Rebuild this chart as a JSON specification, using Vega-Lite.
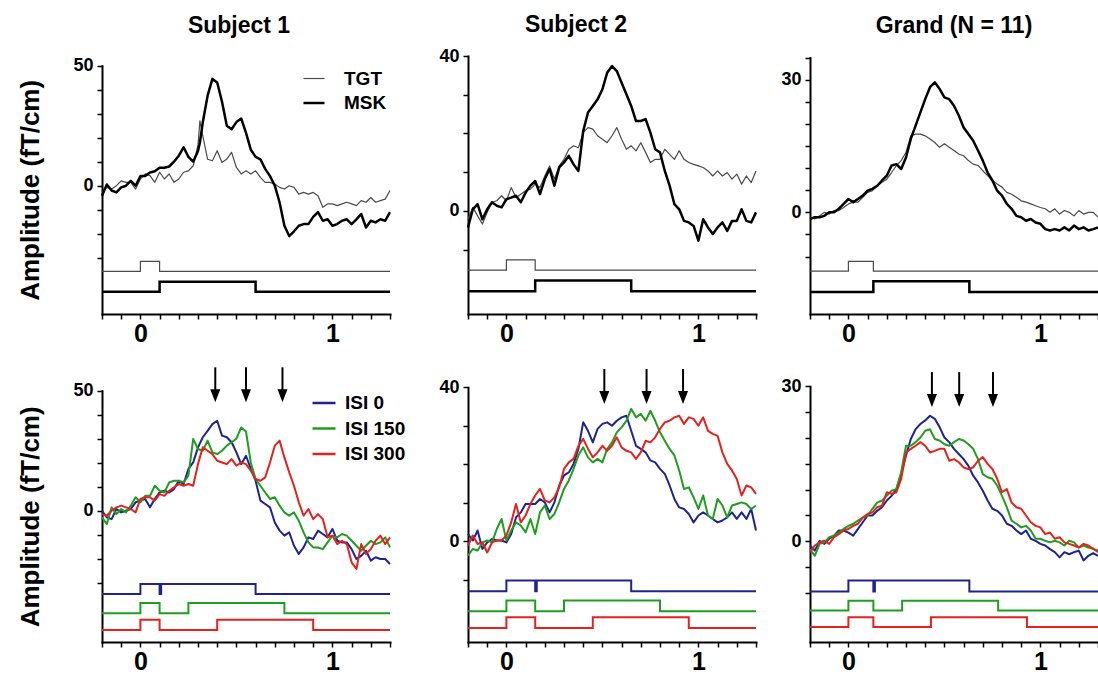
{
"$schema": "https://vega.github.io/schema/vega-lite/v6.json",
"autosize": {"type": "pad"},
"padding": {"left": 17, "top": 14, "right": 0, "bottom": 0},
"background": "white",
"columns": 3,
"spacing": {"row": 72, "column": 54},
"bounds": "flush",
"resolve": {"scale": {"color": "independent", "strokeWidth": "independent"}},
"datasets": {
"p1t": [
{"t":-0.2,"TGT":-2.8,"MSK":-4.2},{"t":-0.175,"TGT":-0.7,"MSK":0.5},{"t":-0.15,"TGT":-1.4,"MSK":-2},{"t":-0.125,"TGT":0,"MSK":-2.8},
{"t":-0.1,"TGT":2,"MSK":-0.7},{"t":-0.075,"TGT":1.4,"MSK":0},{"t":-0.05,"TGT":1.4,"MSK":2},{"t":-0.025,"TGT":-1.4,"MSK":0},
{"t":0,"TGT":2.8,"MSK":4},{"t":0.025,"TGT":4.9,"MSK":4},{"t":0.05,"TGT":4.2,"MSK":5.5},{"t":0.075,"TGT":1.4,"MSK":6},
{"t":0.1,"TGT":5.6,"MSK":7.5},{"t":0.125,"TGT":2.8,"MSK":7.5},{"t":0.15,"TGT":4.9,"MSK":8},{"t":0.175,"TGT":1.4,"MSK":10},
{"t":0.2,"TGT":2.8,"MSK":12.5},{"t":0.225,"TGT":5.6,"MSK":16},{"t":0.25,"TGT":6.2,"MSK":12},{"t":0.275,"TGT":8.3,"MSK":10},
{"t":0.3,"TGT":17,"MSK":14.5},{"t":0.31,"TGT":27,"MSK":18},{"t":0.325,"TGT":20.8,"MSK":26.4},{"t":0.35,"TGT":11,"MSK":37.5},{"t":0.375,"TGT":10.4,"MSK":44.5},
{"t":0.4,"TGT":14.6,"MSK":43},{"t":0.425,"TGT":9.7,"MSK":35},{"t":0.45,"TGT":11.1,"MSK":25},{"t":0.475,"TGT":13.9,"MSK":23.5},
{"t":0.5,"TGT":7.6,"MSK":26.5},{"t":0.525,"TGT":4.9,"MSK":28},{"t":0.55,"TGT":6.2,"MSK":22},{"t":0.575,"TGT":4.9,"MSK":15},
{"t":0.6,"TGT":6.2,"MSK":12},{"t":0.625,"TGT":3.5,"MSK":11},{"t":0.65,"TGT":1.4,"MSK":7},{"t":0.675,"TGT":1.4,"MSK":4},
{"t":0.7,"TGT":0.7,"MSK":0},{"t":0.725,"TGT":-0.7,"MSK":-7},{"t":0.75,"TGT":-1.4,"MSK":-16.7},{"t":0.775,"TGT":0,"MSK":-21},
{"t":0.8,"TGT":-0.7,"MSK":-19},{"t":0.825,"TGT":-3.5,"MSK":-16.7},{"t":0.85,"TGT":-2.8,"MSK":-16},{"t":0.875,"TGT":-3.5,"MSK":-16},
{"t":0.9,"TGT":-2.8,"MSK":-13},{"t":0.925,"TGT":-4.2,"MSK":-11},{"t":0.95,"TGT":-9,"MSK":-14.6},{"t":0.975,"TGT":-7.6,"MSK":-14},
{"t":1,"TGT":-7.6,"MSK":-16.7},{"t":1.025,"TGT":-8.3,"MSK":-16},{"t":1.05,"TGT":-7.6,"MSK":-14.6},{"t":1.075,"TGT":-6.9,"MSK":-14},
{"t":1.1,"TGT":-7.6,"MSK":-16},{"t":1.125,"TGT":-8.3,"MSK":-14},{"t":1.15,"TGT":-6.2,"MSK":-11.8},{"t":1.175,"TGT":-6.9,"MSK":-17.4},
{"t":1.2,"TGT":-4.9,"MSK":-14.6},{"t":1.225,"TGT":-6.9,"MSK":-15.3},{"t":1.25,"TGT":-6.2,"MSK":-14},{"t":1.275,"TGT":-5.6,"MSK":-14.6},
{"t":1.3,"TGT":-2,"MSK":-11}
],
"p2t": [
{"t":-0.2,"TGT":-2.2,"MSK":-4.3},{"t":-0.175,"TGT":0.9,"MSK":0.4},{"t":-0.15,"TGT":-1.3,"MSK":1.7},{"t":-0.125,"TGT":-3.4,"MSK":-2.2},
{"t":-0.1,"TGT":-0.4,"MSK":0.4},{"t":-0.075,"TGT":2.2,"MSK":2.2},{"t":-0.05,"TGT":2.6,"MSK":1.3},{"t":-0.025,"TGT":3.9,"MSK":0.9},
{"t":0,"TGT":2.6,"MSK":3},{"t":0.025,"TGT":6,"MSK":3.4},{"t":0.05,"TGT":3.4,"MSK":3.9},{"t":0.075,"TGT":4.3,"MSK":2.2},
{"t":0.1,"TGT":5.2,"MSK":4.7},{"t":0.125,"TGT":5.6,"MSK":6.5},{"t":0.15,"TGT":6.9,"MSK":7.7},{"t":0.175,"TGT":6,"MSK":4.3},
{"t":0.2,"TGT":9,"MSK":8.2},{"t":0.225,"TGT":11.6,"MSK":10.8},{"t":0.25,"TGT":8.2,"MSK":6.5},{"t":0.275,"TGT":11.6,"MSK":11.2},
{"t":0.3,"TGT":13.3,"MSK":12.5},{"t":0.325,"TGT":15.9,"MSK":14.2},{"t":0.35,"TGT":16.8,"MSK":12},{"t":0.375,"TGT":16.3,"MSK":10.3},
{"t":0.4,"TGT":20.2,"MSK":20.6},{"t":0.425,"TGT":21.5,"MSK":25.4},{"t":0.45,"TGT":21.1,"MSK":27.1},{"t":0.475,"TGT":19.4,"MSK":28.8},
{"t":0.5,"TGT":18.5,"MSK":31.4},{"t":0.525,"TGT":17.6,"MSK":35.7},{"t":0.55,"TGT":19.4,"MSK":37.4},{"t":0.575,"TGT":21.5,"MSK":36.1},
{"t":0.6,"TGT":18.5,"MSK":33.1},{"t":0.625,"TGT":15.9,"MSK":30.1},{"t":0.65,"TGT":16.8,"MSK":27.1},{"t":0.675,"TGT":15.5,"MSK":23.2},
{"t":0.7,"TGT":17.6,"MSK":23.2},{"t":0.725,"TGT":15.1,"MSK":23.7},{"t":0.75,"TGT":12.5,"MSK":20.2},{"t":0.775,"TGT":13.3,"MSK":15.9},
{"t":0.8,"TGT":13.3,"MSK":15.1},{"t":0.825,"TGT":15.9,"MSK":10.3},{"t":0.85,"TGT":14.6,"MSK":6.5},{"t":0.875,"TGT":13.3,"MSK":1.7},
{"t":0.9,"TGT":15.5,"MSK":0.4},{"t":0.925,"TGT":13.3,"MSK":-2.6},{"t":0.95,"TGT":12.5,"MSK":-3},{"t":0.975,"TGT":12,"MSK":-3.9},
{"t":1,"TGT":11.6,"MSK":-7.7},{"t":1.025,"TGT":11.2,"MSK":-2.2},{"t":1.05,"TGT":10.3,"MSK":-4.3},{"t":1.075,"TGT":9,"MSK":-6},
{"t":1.1,"TGT":10.3,"MSK":-4.3},{"t":1.125,"TGT":9,"MSK":-3},{"t":1.15,"TGT":9.9,"MSK":-5.2},{"t":1.175,"TGT":8.2,"MSK":-2.6},
{"t":1.2,"TGT":9.5,"MSK":-2.6},{"t":1.225,"TGT":6.9,"MSK":0.4},{"t":1.25,"TGT":9,"MSK":-2.6},{"t":1.275,"TGT":7.3,"MSK":-3},
{"t":1.3,"TGT":10.3,"MSK":-0.4}
],
"p3t": [
{"t":-0.2,"TGT":-1.1,"MSK":-1.5},{"t":-0.175,"TGT":-1.5,"MSK":-1.1},{"t":-0.15,"TGT":-0.8,"MSK":-1.1},{"t":-0.125,"TGT":0,"MSK":-0.8},
{"t":-0.1,"TGT":-0.4,"MSK":0},{"t":-0.075,"TGT":0.4,"MSK":0},{"t":-0.05,"TGT":0.4,"MSK":0.8},{"t":-0.025,"TGT":1.1,"MSK":1.9},
{"t":0,"TGT":1.9,"MSK":3},{"t":0.025,"TGT":2.3,"MSK":2.3},{"t":0.05,"TGT":2.3,"MSK":3},{"t":0.075,"TGT":3.4,"MSK":3.8},
{"t":0.1,"TGT":4.5,"MSK":4.9},{"t":0.125,"TGT":4.9,"MSK":5.3},{"t":0.15,"TGT":6,"MSK":6},{"t":0.175,"TGT":6.8,"MSK":7.2},
{"t":0.2,"TGT":7.5,"MSK":8.3},{"t":0.225,"TGT":9,"MSK":10.6},{"t":0.25,"TGT":10.6,"MSK":10.9},{"t":0.275,"TGT":11.7,"MSK":9.8},
{"t":0.3,"TGT":13.6,"MSK":12.4},{"t":0.325,"TGT":17.3,"MSK":16.6},{"t":0.35,"TGT":17.7,"MSK":19.6},{"t":0.375,"TGT":17.7,"MSK":22.6},
{"t":0.4,"TGT":17.3,"MSK":25.6},{"t":0.425,"TGT":16.6,"MSK":28.3},{"t":0.45,"TGT":15.8,"MSK":29.4},{"t":0.475,"TGT":14.7,"MSK":27.9},
{"t":0.5,"TGT":15.5,"MSK":26},{"t":0.525,"TGT":14.7,"MSK":25.6},{"t":0.55,"TGT":14,"MSK":24.1},{"t":0.575,"TGT":13.2,"MSK":21.9},
{"t":0.6,"TGT":12.8,"MSK":19.2},{"t":0.625,"TGT":11.7,"MSK":17.7},{"t":0.65,"TGT":10.9,"MSK":16.2},{"t":0.675,"TGT":10.6,"MSK":14},
{"t":0.7,"TGT":9.4,"MSK":11.7},{"t":0.725,"TGT":8.3,"MSK":9},{"t":0.75,"TGT":7.2,"MSK":7.2},{"t":0.775,"TGT":6.4,"MSK":4.9},
{"t":0.8,"TGT":5.7,"MSK":3.8},{"t":0.825,"TGT":4.5,"MSK":1.9},{"t":0.85,"TGT":4.1,"MSK":0.8},{"t":0.875,"TGT":3.4,"MSK":-0.8},
{"t":0.9,"TGT":2.6,"MSK":-1.1},{"t":0.925,"TGT":2.3,"MSK":-1.9},{"t":0.95,"TGT":1.9,"MSK":-1.5},{"t":0.975,"TGT":1.5,"MSK":-2.3},
{"t":1,"TGT":1.1,"MSK":-2.6},{"t":1.025,"TGT":0.8,"MSK":-3.8},{"t":1.05,"TGT":0,"MSK":-4.1},{"t":1.075,"TGT":0.8,"MSK":-3.8},
{"t":1.1,"TGT":-0.4,"MSK":-4.1},{"t":1.125,"TGT":0.4,"MSK":-3.4},{"t":1.15,"TGT":0,"MSK":-4.1},{"t":1.175,"TGT":-0.8,"MSK":-3},
{"t":1.2,"TGT":0.4,"MSK":-3.8},{"t":1.225,"TGT":-0.4,"MSK":-3.4},{"t":1.25,"TGT":0,"MSK":-4.1},{"t":1.275,"TGT":0,"MSK":-3.8},
{"t":1.3,"TGT":-1.1,"MSK":-3.4}
],
"p1b": [
{"t":-0.2,"ISI 0":0,"ISI 150":-2.8,"ISI 300":-1.4},{"t":-0.175,"ISI 0":-2.8,"ISI 150":-5.6,"ISI 300":-2.1},{"t":-0.15,"ISI 0":-3.5,"ISI 150":1.4,"ISI 300":0},{"t":-0.125,"ISI 0":0.7,"ISI 150":-1.4,"ISI 300":1.4},
{"t":-0.1,"ISI 0":-0.7,"ISI 150":0.7,"ISI 300":2.1},{"t":-0.075,"ISI 0":0,"ISI 150":-0.7,"ISI 300":1.4},{"t":-0.05,"ISI 0":0.7,"ISI 150":2.1,"ISI 300":0.7},{"t":-0.025,"ISI 0":3.5,"ISI 150":5.6,"ISI 300":-0.7},
{"t":0,"ISI 0":4.2,"ISI 150":3.5,"ISI 300":4.9},{"t":0.025,"ISI 0":4.9,"ISI 150":6.2,"ISI 300":5.6},{"t":0.05,"ISI 0":1.4,"ISI 150":6.2,"ISI 300":5.6},{"t":0.075,"ISI 0":4.9,"ISI 150":10.4,"ISI 300":4.2},
{"t":0.1,"ISI 0":7.6,"ISI 150":8.3,"ISI 300":6.9},{"t":0.125,"ISI 0":8.3,"ISI 150":7.6,"ISI 300":6.2},{"t":0.15,"ISI 0":7.6,"ISI 150":11.8,"ISI 300":8.3},{"t":0.175,"ISI 0":9,"ISI 150":12.5,"ISI 300":9.7},
{"t":0.2,"ISI 0":12.5,"ISI 150":12.5,"ISI 300":11.1},{"t":0.225,"ISI 0":11.1,"ISI 150":11.8,"ISI 300":10.4},{"t":0.25,"ISI 0":17.4,"ISI 150":14.6,"ISI 300":11.1},{"t":0.275,"ISI 0":20.1,"ISI 150":29.9,"ISI 300":10.4},
{"t":0.3,"ISI 0":26.4,"ISI 150":25.7,"ISI 300":19.4},{"t":0.325,"ISI 0":30.6,"ISI 150":25,"ISI 300":26.4},{"t":0.35,"ISI 0":33.3,"ISI 150":29.2,"ISI 300":25},{"t":0.375,"ISI 0":36.1,"ISI 150":24.3,"ISI 300":23.6},
{"t":0.4,"ISI 0":37.5,"ISI 150":23.6,"ISI 300":20.8},{"t":0.425,"ISI 0":31.3,"ISI 150":25,"ISI 300":20.1},{"t":0.45,"ISI 0":30.6,"ISI 150":27.1,"ISI 300":19.4},{"t":0.475,"ISI 0":28.5,"ISI 150":28.5,"ISI 300":21.5},
{"t":0.5,"ISI 0":24.3,"ISI 150":30,"ISI 300":18.8},{"t":0.525,"ISI 0":19.4,"ISI 150":34.7,"ISI 300":20.1},{"t":0.55,"ISI 0":22.9,"ISI 150":33,"ISI 300":19.4},{"t":0.575,"ISI 0":17.4,"ISI 150":20,"ISI 300":16.7},
{"t":0.6,"ISI 0":12.5,"ISI 150":13.2,"ISI 300":13.2},{"t":0.625,"ISI 0":4.2,"ISI 150":10.4,"ISI 300":12.5},{"t":0.65,"ISI 0":2.8,"ISI 150":7.6,"ISI 300":13.9},{"t":0.675,"ISI 0":1.4,"ISI 150":4.9,"ISI 300":20.1},
{"t":0.7,"ISI 0":-4.9,"ISI 150":5.6,"ISI 300":27.1},{"t":0.725,"ISI 0":-8.3,"ISI 150":2.1,"ISI 300":29.2},{"t":0.75,"ISI 0":-10.4,"ISI 150":-0.7,"ISI 300":22.2},{"t":0.775,"ISI 0":-9,"ISI 150":-2.1,"ISI 300":16},
{"t":0.8,"ISI 0":-14.6,"ISI 150":-0.7,"ISI 300":10.4},{"t":0.825,"ISI 0":-18,"ISI 150":-4.2,"ISI 300":3.5},{"t":0.85,"ISI 0":-15.3,"ISI 150":-9,"ISI 300":-2.1},{"t":0.875,"ISI 0":-11.1,"ISI 150":-13.2,"ISI 300":0.7},
{"t":0.9,"ISI 0":-11.8,"ISI 150":-15.3,"ISI 300":-3.5},{"t":0.925,"ISI 0":-8.3,"ISI 150":-15.3,"ISI 300":-1.4},{"t":0.95,"ISI 0":-9.7,"ISI 150":-16,"ISI 300":-3.5},{"t":0.975,"ISI 0":-11.1,"ISI 150":-13.2,"ISI 300":-11.1},
{"t":1,"ISI 0":-7.6,"ISI 150":-10.4,"ISI 300":-10.4},{"t":1.025,"ISI 0":-12.5,"ISI 150":-11.1,"ISI 300":-13.9},{"t":1.05,"ISI 0":-13.2,"ISI 150":-9.7,"ISI 300":-12.5},{"t":1.075,"ISI 0":-13.2,"ISI 150":-10.4,"ISI 300":-13.9},
{"t":1.1,"ISI 0":-16,"ISI 150":-12.5,"ISI 300":-21.5},{"t":1.125,"ISI 0":-20.1,"ISI 150":-14.6,"ISI 300":-24.3},{"t":1.15,"ISI 0":-18.8,"ISI 150":-16.7,"ISI 300":-13.9},{"t":1.175,"ISI 0":-16.7,"ISI 150":-14.6,"ISI 300":-18},
{"t":1.2,"ISI 0":-20.8,"ISI 150":-12.5,"ISI 300":-16},{"t":1.225,"ISI 0":-19.4,"ISI 150":-13.9,"ISI 300":-12.5},{"t":1.25,"ISI 0":-20.1,"ISI 150":-13.2,"ISI 300":-10.4},{"t":1.275,"ISI 0":-20.1,"ISI 150":-11.1,"ISI 300":-13.9},
{"t":1.3,"ISI 0":-22.2,"ISI 150":-15.3,"ISI 300":-11.1}
],
"p2b": [
{"t":-0.2,"ISI 0":1.9,"ISI 150":-3.7,"ISI 300":-1.1},{"t":-0.175,"ISI 0":0.2,"ISI 150":-2,"ISI 300":1.5},{"t":-0.15,"ISI 0":2.8,"ISI 150":-2.4,"ISI 300":-0.7},{"t":-0.125,"ISI 0":-2,"ISI 150":-0.3,"ISI 300":-0.3},
{"t":-0.1,"ISI 0":-0.3,"ISI 150":0.2,"ISI 300":-2.9},{"t":-0.075,"ISI 0":0.6,"ISI 150":-0.3,"ISI 300":-0.3},{"t":-0.05,"ISI 0":0.2,"ISI 150":3.2,"ISI 300":0.2},{"t":-0.025,"ISI 0":0.2,"ISI 150":5.8,"ISI 300":0.2},
{"t":0,"ISI 0":-0.3,"ISI 150":0.2,"ISI 300":1.5},{"t":0.025,"ISI 0":1.9,"ISI 150":2.8,"ISI 300":4.9},{"t":0.05,"ISI 0":6.2,"ISI 150":4.9,"ISI 300":9.7},{"t":0.075,"ISI 0":7.5,"ISI 150":4.1,"ISI 300":4.9},
{"t":0.1,"ISI 0":9.7,"ISI 150":2.3,"ISI 300":6.7},{"t":0.125,"ISI 0":9.7,"ISI 150":5.8,"ISI 300":9.7},{"t":0.15,"ISI 0":9.7,"ISI 150":1.9,"ISI 300":11.9},{"t":0.175,"ISI 0":11,"ISI 150":7.5,"ISI 300":13.6},
{"t":0.2,"ISI 0":10.1,"ISI 150":9.3,"ISI 300":10.6},{"t":0.225,"ISI 0":7.5,"ISI 150":5.8,"ISI 300":10.1},{"t":0.25,"ISI 0":10.1,"ISI 150":7.1,"ISI 300":11.4},{"t":0.275,"ISI 0":14.5,"ISI 150":10.1,"ISI 300":14},
{"t":0.3,"ISI 0":17.1,"ISI 150":13.6,"ISI 300":18.8},{"t":0.325,"ISI 0":17.9,"ISI 150":15.8,"ISI 300":20.5},{"t":0.35,"ISI 0":20.1,"ISI 150":18.8,"ISI 300":21.4},{"t":0.375,"ISI 0":24,"ISI 150":22.3,"ISI 300":24.8},
{"t":0.4,"ISI 0":30.9,"ISI 150":24.4,"ISI 300":26.6},{"t":0.425,"ISI 0":28.7,"ISI 150":21.8,"ISI 300":24},{"t":0.45,"ISI 0":25.7,"ISI 150":20.5,"ISI 300":21.8},{"t":0.475,"ISI 0":29.2,"ISI 150":21.4,"ISI 300":23.1},
{"t":0.5,"ISI 0":30.5,"ISI 150":20.5,"ISI 300":24.8},{"t":0.525,"ISI 0":30.9,"ISI 150":24,"ISI 300":23.5},{"t":0.55,"ISI 0":30,"ISI 150":25.7,"ISI 300":24.8},{"t":0.575,"ISI 0":31.3,"ISI 150":28.3,"ISI 300":27},
{"t":0.6,"ISI 0":32.2,"ISI 150":29.6,"ISI 300":24.4},{"t":0.625,"ISI 0":32.6,"ISI 150":31.3,"ISI 300":23.5},{"t":0.65,"ISI 0":28.7,"ISI 150":34.4,"ISI 300":23.1},{"t":0.675,"ISI 0":24.8,"ISI 150":32.2,"ISI 300":21.4},
{"t":0.7,"ISI 0":24,"ISI 150":33.1,"ISI 300":23.1},{"t":0.725,"ISI 0":23.1,"ISI 150":31.3,"ISI 300":26.1},{"t":0.75,"ISI 0":21,"ISI 150":33.9,"ISI 300":25.7},{"t":0.775,"ISI 0":20.5,"ISI 150":31.3,"ISI 300":27},
{"t":0.8,"ISI 0":18.8,"ISI 150":28.3,"ISI 300":29.2},{"t":0.825,"ISI 0":17.5,"ISI 150":26.1,"ISI 300":30.9},{"t":0.85,"ISI 0":14.5,"ISI 150":24,"ISI 300":31.3},{"t":0.875,"ISI 0":11,"ISI 150":22.3,"ISI 300":32.2},
{"t":0.9,"ISI 0":8.8,"ISI 150":18.4,"ISI 300":32.6},{"t":0.925,"ISI 0":8.4,"ISI 150":13.6,"ISI 300":30.5},{"t":0.95,"ISI 0":7.1,"ISI 150":14,"ISI 300":32.2},{"t":0.975,"ISI 0":4.9,"ISI 150":11.4,"ISI 300":31.8},
{"t":1,"ISI 0":6.7,"ISI 150":8.4,"ISI 300":30},{"t":1.025,"ISI 0":7.5,"ISI 150":11.9,"ISI 300":32.2},{"t":1.05,"ISI 0":6.7,"ISI 150":6.7,"ISI 300":28.7},{"t":1.075,"ISI 0":5.8,"ISI 150":5.8,"ISI 300":27.9},
{"t":1.1,"ISI 0":4.9,"ISI 150":11,"ISI 300":27.4},{"t":1.125,"ISI 0":5.4,"ISI 150":9.3,"ISI 300":23.1},{"t":1.15,"ISI 0":6.2,"ISI 150":6.2,"ISI 300":20.1},{"t":1.175,"ISI 0":7.5,"ISI 150":9.3,"ISI 300":18.4},
{"t":1.2,"ISI 0":5.8,"ISI 150":9.7,"ISI 300":16.2},{"t":1.225,"ISI 0":7.5,"ISI 150":10.1,"ISI 300":11.9},{"t":1.25,"ISI 0":5.8,"ISI 150":9.7,"ISI 300":14.5},{"t":1.275,"ISI 0":8.4,"ISI 150":8.4,"ISI 300":14},
{"t":1.3,"ISI 0":2.8,"ISI 150":9.3,"ISI 300":12.3}
],
"p3b": [
{"t":-0.2,"ISI 0":-0.8,"ISI 150":-1.5,"ISI 300":-2.1},{"t":-0.175,"ISI 0":-1.8,"ISI 150":-2.8,"ISI 300":-0.8},{"t":-0.15,"ISI 0":0.1,"ISI 150":-0.5,"ISI 300":-0.2},{"t":-0.125,"ISI 0":-0.5,"ISI 150":-0.2,"ISI 300":0.1},
{"t":-0.1,"ISI 0":0.5,"ISI 150":0.8,"ISI 300":-0.5},{"t":-0.075,"ISI 0":1.1,"ISI 150":1.1,"ISI 300":0.8},{"t":-0.05,"ISI 0":2.1,"ISI 150":1.7,"ISI 300":1.4},{"t":-0.025,"ISI 0":2.1,"ISI 150":2.4,"ISI 300":2.1},
{"t":0,"ISI 0":1.7,"ISI 150":3,"ISI 300":2.4},{"t":0.025,"ISI 0":1.1,"ISI 150":3.4,"ISI 300":3},{"t":0.05,"ISI 0":2.4,"ISI 150":4,"ISI 300":3.4},{"t":0.075,"ISI 0":3.7,"ISI 150":4.6,"ISI 300":4.6},
{"t":0.1,"ISI 0":5,"ISI 150":5,"ISI 300":5.3},{"t":0.125,"ISI 0":5,"ISI 150":6.3,"ISI 300":5.6},{"t":0.15,"ISI 0":5.9,"ISI 150":7.5,"ISI 300":6.6},{"t":0.175,"ISI 0":6.6,"ISI 150":7.9,"ISI 300":6.9},
{"t":0.2,"ISI 0":7.9,"ISI 150":8.8,"ISI 300":9.5},{"t":0.225,"ISI 0":8.8,"ISI 150":9.8,"ISI 300":9.2},{"t":0.25,"ISI 0":10.1,"ISI 150":10.1,"ISI 300":9.5},{"t":0.275,"ISI 0":13,"ISI 150":13.4,"ISI 300":12.1},
{"t":0.3,"ISI 0":16.6,"ISI 150":18.5,"ISI 300":17.2},{"t":0.325,"ISI 0":19.8,"ISI 150":18.5,"ISI 300":17.9},{"t":0.35,"ISI 0":21.7,"ISI 150":19.2,"ISI 300":18.5},{"t":0.375,"ISI 0":22.7,"ISI 150":20.1,"ISI 300":19.2},
{"t":0.4,"ISI 0":23.4,"ISI 150":21.4,"ISI 300":18.5},{"t":0.425,"ISI 0":24.3,"ISI 150":21.7,"ISI 300":17.2},{"t":0.45,"ISI 0":23.7,"ISI 150":19.8,"ISI 300":17.5},{"t":0.475,"ISI 0":22.1,"ISI 150":19.5,"ISI 300":17.9},
{"t":0.5,"ISI 0":20.1,"ISI 150":18.8,"ISI 300":17.9},{"t":0.525,"ISI 0":19.2,"ISI 150":18.5,"ISI 300":15.6},{"t":0.55,"ISI 0":17.9,"ISI 150":19.2,"ISI 300":15.9},{"t":0.575,"ISI 0":16.9,"ISI 150":19.8,"ISI 300":15.3},
{"t":0.6,"ISI 0":15.9,"ISI 150":19.5,"ISI 300":14.3},{"t":0.625,"ISI 0":14.6,"ISI 150":18.8,"ISI 300":14},{"t":0.65,"ISI 0":12.7,"ISI 150":17.9,"ISI 300":14.3},{"t":0.675,"ISI 0":11.4,"ISI 150":15.9,"ISI 300":15.6},
{"t":0.7,"ISI 0":9.8,"ISI 150":13,"ISI 300":16.3},{"t":0.725,"ISI 0":7.9,"ISI 150":12.4,"ISI 300":15},{"t":0.75,"ISI 0":6.3,"ISI 150":12.1,"ISI 300":14},{"t":0.775,"ISI 0":5.9,"ISI 150":10.8,"ISI 300":12.1},
{"t":0.8,"ISI 0":5,"ISI 150":8.8,"ISI 300":9.5},{"t":0.825,"ISI 0":3.4,"ISI 150":6.6,"ISI 300":10.1},{"t":0.85,"ISI 0":3,"ISI 150":4,"ISI 300":7.5},{"t":0.875,"ISI 0":2.1,"ISI 150":3.4,"ISI 300":6.6},
{"t":0.9,"ISI 0":1.4,"ISI 150":2.7,"ISI 300":6.3},{"t":0.925,"ISI 0":2.1,"ISI 150":3,"ISI 300":5},{"t":0.95,"ISI 0":0.5,"ISI 150":2.1,"ISI 300":3.7},{"t":0.975,"ISI 0":0.1,"ISI 150":0.5,"ISI 300":3},
{"t":1,"ISI 0":-0.5,"ISI 150":0.5,"ISI 300":2.7},{"t":1.025,"ISI 0":-0.8,"ISI 150":0.1,"ISI 300":1.4},{"t":1.05,"ISI 0":-1.5,"ISI 150":-0.2,"ISI 300":1.7},{"t":1.075,"ISI 0":-2.1,"ISI 150":0.1,"ISI 300":0.5},
{"t":1.1,"ISI 0":-3.1,"ISI 150":-0.2,"ISI 300":0.8},{"t":1.125,"ISI 0":-2.1,"ISI 150":-0.8,"ISI 300":-0.2},{"t":1.15,"ISI 0":-2.5,"ISI 150":0.1,"ISI 300":-0.5},{"t":1.175,"ISI 0":-2.1,"ISI 150":-0.2,"ISI 300":-0.8},
{"t":1.2,"ISI 0":-1.8,"ISI 150":-1.2,"ISI 300":-1.2},{"t":1.225,"ISI 0":-3.7,"ISI 150":-0.8,"ISI 300":-0.5},{"t":1.25,"ISI 0":-2.8,"ISI 150":-1.2,"ISI 300":-0.8},{"t":1.275,"ISI 0":-2.3,"ISI 150":-1.4,"ISI 300":-1.5},
{"t":1.3,"ISI 0":-2.8,"ISI 150":-2.1,"ISI 300":-1.8}
],
"p1ts": [
{"s":"TGT","t":-0.2,"v":-35.7},{"s":"TGT","t":0,"v":-31.5},{"s":"TGT","t":0.1,"v":-35.7},{"s":"TGT","t":1.3,"v":-35.7},
{"s":"MSK","t":-0.2,"v":-44.2},{"s":"MSK","t":0.1,"v":-40},{"s":"MSK","t":0.6,"v":-44.2},{"s":"MSK","t":1.3,"v":-44.2}
],
"p2ts": [
{"s":"TGT","t":-0.2,"v":-15.3},{"s":"TGT","t":0,"v":-12.7},{"s":"TGT","t":0.15,"v":-15.3},{"s":"TGT","t":1.3,"v":-15.3},
{"s":"MSK","t":-0.2,"v":-20.8},{"s":"MSK","t":0.15,"v":-18},{"s":"MSK","t":0.65,"v":-20.8},{"s":"MSK","t":1.3,"v":-20.8}
],
"p3ts": [
{"s":"TGT","t":-0.2,"v":-13.3},{"s":"TGT","t":0,"v":-11.1},{"s":"TGT","t":0.13,"v":-13.3},{"s":"TGT","t":1.3,"v":-13.3},
{"s":"MSK","t":-0.2,"v":-18},{"s":"MSK","t":0.13,"v":-15.6},{"s":"MSK","t":0.63,"v":-18},{"s":"MSK","t":1.3,"v":-18}
],
"p1bs": [
{"s":"ISI 0","t":-0.2,"v":-34.7},{"s":"ISI 0","t":0,"v":-30.5},{"s":"ISI 0","t":0.1,"v":-34.7},{"s":"ISI 0","t":0.108,"v":-30.5},{"s":"ISI 0","t":0.6,"v":-34.7},{"s":"ISI 0","t":1.3,"v":-34.7},
{"s":"ISI 150","t":-0.2,"v":-42.7},{"s":"ISI 150","t":0,"v":-38.5},{"s":"ISI 150","t":0.1,"v":-42.7},{"s":"ISI 150","t":0.25,"v":-38.5},{"s":"ISI 150","t":0.75,"v":-42.7},{"s":"ISI 150","t":1.3,"v":-42.7},
{"s":"ISI 300","t":-0.2,"v":-49.7},{"s":"ISI 300","t":0,"v":-45.4},{"s":"ISI 300","t":0.1,"v":-49.7},{"s":"ISI 300","t":0.4,"v":-45.4},{"s":"ISI 300","t":0.9,"v":-49.7},{"s":"ISI 300","t":1.3,"v":-49.7}
],
"p2bs": [
{"s":"ISI 0","t":-0.2,"v":-13},{"s":"ISI 0","t":0,"v":-10.2},{"s":"ISI 0","t":0.15,"v":-13},{"s":"ISI 0","t":0.158,"v":-10.2},{"s":"ISI 0","t":0.65,"v":-13},{"s":"ISI 0","t":1.3,"v":-13},
{"s":"ISI 150","t":-0.2,"v":-18.2},{"s":"ISI 150","t":0,"v":-15.4},{"s":"ISI 150","t":0.15,"v":-18.2},{"s":"ISI 150","t":0.3,"v":-15.4},{"s":"ISI 150","t":0.8,"v":-18.2},{"s":"ISI 150","t":1.3,"v":-18.2},
{"s":"ISI 300","t":-0.2,"v":-22.5},{"s":"ISI 300","t":0,"v":-19.7},{"s":"ISI 300","t":0.15,"v":-22.5},{"s":"ISI 300","t":0.45,"v":-19.7},{"s":"ISI 300","t":0.95,"v":-22.5},{"s":"ISI 300","t":1.3,"v":-22.5}
],
"p3bs": [
{"s":"ISI 0","t":-0.2,"v":-9.7},{"s":"ISI 0","t":0,"v":-7.6},{"s":"ISI 0","t":0.13,"v":-9.7},{"s":"ISI 0","t":0.138,"v":-7.6},{"s":"ISI 0","t":0.63,"v":-9.7},{"s":"ISI 0","t":1.3,"v":-9.7},
{"s":"ISI 150","t":-0.2,"v":-13.4},{"s":"ISI 150","t":0,"v":-11.5},{"s":"ISI 150","t":0.13,"v":-13.4},{"s":"ISI 150","t":0.28,"v":-11.5},{"s":"ISI 150","t":0.78,"v":-13.4},{"s":"ISI 150","t":1.3,"v":-13.4},
{"s":"ISI 300","t":-0.2,"v":-16.6},{"s":"ISI 300","t":0,"v":-14.7},{"s":"ISI 300","t":0.13,"v":-16.6},{"s":"ISI 300","t":0.43,"v":-14.7},{"s":"ISI 300","t":0.93,"v":-16.6},{"s":"ISI 300","t":1.3,"v":-16.6}
],
"arrows": [
{"p":1,"t":0.39},{"p":1,"t":0.55},{"p":1,"t":0.74},
{"p":2,"t":0.51},{"p":2,"t":0.73},{"p":2,"t":0.92},
{"p":3,"t":0.435},{"p":3,"t":0.577},{"p":3,"t":0.753}
]
},
"concat": [
{
"width": 312, "height": 258,
"title": {"text": "Subject 1", "dx": -19},
"layer": [
{"data": {"name": "p1t"}, "transform": [{"fold": ["TGT","MSK"], "as": ["s","v"]}],
 "mark": {"type": "line", "strokeJoin": "round"},
 "encoding": {
  "x": {"field": "t", "type": "quantitative", "scale": {"domain": [-0.2, 1.3], "range": [0, 288], "nice": false, "zero": false},
        "axis": {"values": [-0.2,-0.1,0,0.1,0.2,0.3,0.4,0.5,0.6,0.7,0.8,0.9,1,1.1,1.2,1.3], "tickCount": 100, "labelExpr": "datum.value == 0 ? '0' : datum.value == 1 ? '1' : ''", "title": null}},
  "y": {"field": "v", "type": "quantitative", "scale": {"domain": [-53.46, 50], "range": [258, 9.7], "nice": false, "zero": false},
        "axis": {"values": [-30,-20,-10,0,10,20,30,40,50], "tickCount": 100, "labelExpr": "datum.value == 0 ? '0' : datum.value == 50 ? '50' : ''", "title": "Amplitude (fT/cm)"}},
  "color": {"field": "s", "type": "nominal", "scale": {"domain": ["TGT","MSK"], "range": ["#4a4a4a","#000000"]},
            "legend": {"title": null, "orient": "none", "legendX": 200, "legendY": 11, "symbolType": "stroke", "symbolSize": 441, "labelFontSize": 19, "labelOffset": 18, "rowPadding": 2}},
  "strokeWidth": {"field": "s", "type": "nominal", "scale": {"domain": ["TGT","MSK"], "range": [1.2, 2.5]},
            "legend": {"title": null, "orient": "none", "legendX": 200, "legendY": 11, "symbolType": "stroke", "symbolSize": 441, "labelFontSize": 19, "labelOffset": 18, "rowPadding": 2}}
 }},
{"data": {"name": "p1ts"}, "mark": {"type": "line", "interpolate": "step-after"},
 "encoding": {"x": {"field": "t", "type": "quantitative"}, "y": {"field": "v", "type": "quantitative"},
  "color": {"field": "s", "type": "nominal"}, "strokeWidth": {"field": "s", "type": "nominal"}}}
]
},
{
"width": 288, "height": 258,
"title": {"text": "Subject 2", "dx": -36, "offset": 10},
"layer": [
{"data": {"name": "p2t"}, "transform": [{"fold": ["TGT","MSK"], "as": ["s","v"]}],
 "mark": {"type": "line", "strokeJoin": "round"},
 "encoding": {
  "x": {"field": "t", "type": "quantitative", "scale": {"domain": [-0.2, 1.3], "nice": false, "zero": false},
        "axis": {"values": [-0.2,-0.1,0,0.1,0.2,0.3,0.4,0.5,0.6,0.7,0.8,0.9,1,1.1,1.2,1.3], "tickCount": 100, "labelExpr": "datum.value == 0 ? '0' : datum.value == 1 ? '1' : ''", "title": null}},
  "y": {"field": "v", "type": "quantitative", "scale": {"domain": [-26.66, 40], "range": [258, 0], "nice": false, "zero": false},
        "axis": {"values": [-10,0,10,20,30,40], "tickCount": 100, "labelExpr": "datum.value == 0 ? '0' : datum.value == 40 ? '40' : ''", "title": null}},
  "color": {"field": "s", "type": "nominal", "scale": {"domain": ["TGT","MSK"], "range": ["#4a4a4a","#000000"]}, "legend": null},
  "strokeWidth": {"field": "s", "type": "nominal", "scale": {"domain": ["TGT","MSK"], "range": [1.2, 2.5]}, "legend": null}
 }},
{"data": {"name": "p2ts"}, "mark": {"type": "line", "interpolate": "step-after"},
 "encoding": {"x": {"field": "t", "type": "quantitative"}, "y": {"field": "v", "type": "quantitative"},
  "color": {"field": "s", "type": "nominal"}, "strokeWidth": {"field": "s", "type": "nominal"}}}
]
},
{
"width": 288, "height": 258,
"title": {"text": "Grand (N = 11)", "dx": 0, "offset": 11},
"layer": [
{"data": {"name": "p3t"}, "transform": [{"fold": ["TGT","MSK"], "as": ["s","v"]}],
 "mark": {"type": "line", "strokeJoin": "round"},
 "encoding": {
  "x": {"field": "t", "type": "quantitative", "scale": {"domain": [-0.2, 1.3], "nice": false, "zero": false},
        "axis": {"values": [-0.2,-0.1,0,0.1,0.2,0.3,0.4,0.5,0.6,0.7,0.8,0.9,1,1.1,1.2,1.3], "tickCount": 100, "labelExpr": "datum.value == 0 ? '0' : datum.value == 1 ? '1' : ''", "title": null}},
  "y": {"field": "v", "type": "quantitative", "scale": {"domain": [-23.0, 35], "range": [258, 1.6], "nice": false, "zero": false},
        "axis": {"values": [-10,-5,0,5,10,15,20,25,30,35], "tickCount": 100, "labelExpr": "datum.value == 0 ? '0' : datum.value == 30 ? '30' : ''", "title": null}},
  "color": {"field": "s", "type": "nominal", "scale": {"domain": ["TGT","MSK"], "range": ["#4a4a4a","#000000"]}, "legend": null},
  "strokeWidth": {"field": "s", "type": "nominal", "scale": {"domain": ["TGT","MSK"], "range": [1.2, 2.5]}, "legend": null}
 }},
{"data": {"name": "p3ts"}, "mark": {"type": "line", "interpolate": "step-after"},
 "encoding": {"x": {"field": "t", "type": "quantitative"}, "y": {"field": "v", "type": "quantitative"},
  "color": {"field": "s", "type": "nominal"}, "strokeWidth": {"field": "s", "type": "nominal"}}}
]
},
{
"width": 312, "height": 256,
"layer": [
{"data": {"name": "p1b"}, "transform": [{"fold": ["ISI 0","ISI 150","ISI 300"], "as": ["s","v"]}],
 "mark": {"type": "line", "strokeWidth": 2, "strokeJoin": "round"},
 "encoding": {
  "x": {"field": "t", "type": "quantitative", "scale": {"domain": [-0.2, 1.3], "range": [0, 288], "nice": false, "zero": false},
        "axis": {"values": [-0.2,-0.1,0,0.1,0.2,0.3,0.4,0.5,0.6,0.7,0.8,0.9,1,1.1,1.2,1.3], "tickCount": 100, "labelExpr": "datum.value == 0 ? '0' : datum.value == 1 ? '1' : ''", "title": null}},
  "y": {"field": "v", "type": "quantitative", "scale": {"domain": [-54.7, 50], "range": [256, 4.7], "nice": false, "zero": false},
        "axis": {"values": [-30,-20,-10,0,10,20,30,40,50], "tickCount": 100, "labelExpr": "datum.value == 0 ? '0' : datum.value == 50 ? '50' : ''", "title": "Amplitude (fT/cm)"}},
  "color": {"field": "s", "type": "nominal", "scale": {"domain": ["ISI 0","ISI 150","ISI 300"], "range": ["#1f2391","#1e9e1e","#e5211d"]},
            "legend": {"title": null, "orient": "none", "legendX": 209, "legendY": 4, "symbolType": "stroke", "symbolSize": 529, "symbolStrokeWidth": 2.5, "labelFontSize": 19, "labelOffset": 8, "rowPadding": 2.5}}
 }},
{"data": {"name": "p1bs"}, "mark": {"type": "line", "interpolate": "step-after", "strokeWidth": 2},
 "encoding": {"x": {"field": "t", "type": "quantitative"}, "y": {"field": "v", "type": "quantitative"},
  "color": {"field": "s", "type": "nominal"}}},
{"data": {"name": "arrows"}, "transform": [{"filter": "datum.p == 1"}], "mark": {"type": "rule", "color": "black", "strokeWidth": 2},
 "encoding": {"x": {"field": "t", "type": "quantitative"}, "y": {"datum": 59.75}, "y2": {"datum": 48}}},
{"data": {"name": "arrows"}, "transform": [{"filter": "datum.p == 1"}], "mark": {"type": "point", "shape": "M -0.75 -1.95 L 0.75 -1.95 L 0 0 Z", "size": 178, "filled": true, "color": "black", "opacity": 1, "strokeWidth": 0},
 "encoding": {"x": {"field": "t", "type": "quantitative"}, "y": {"datum": 45.2}}}
]
},
{
"width": 288, "height": 256,
"layer": [
{"data": {"name": "p2b"}, "transform": [{"fold": ["ISI 0","ISI 150","ISI 300"], "as": ["s","v"]}],
 "mark": {"type": "line", "strokeWidth": 2, "strokeJoin": "round"},
 "encoding": {
  "x": {"field": "t", "type": "quantitative", "scale": {"domain": [-0.2, 1.3], "nice": false, "zero": false},
        "axis": {"values": [-0.2,-0.1,0,0.1,0.2,0.3,0.4,0.5,0.6,0.7,0.8,0.9,1,1.1,1.2,1.3], "tickCount": 100, "labelExpr": "datum.value == 0 ? '0' : datum.value == 1 ? '1' : ''", "title": null}},
  "y": {"field": "v", "type": "quantitative", "scale": {"domain": [-26.16, 40], "range": [256, 1.3], "nice": false, "zero": false},
        "axis": {"values": [-10,0,10,20,30,40], "tickCount": 100, "labelExpr": "datum.value == 0 ? '0' : datum.value == 40 ? '40' : ''", "title": null}},
  "color": {"field": "s", "type": "nominal", "scale": {"domain": ["ISI 0","ISI 150","ISI 300"], "range": ["#1f2391","#1e9e1e","#e5211d"]}, "legend": null}
 }},
{"data": {"name": "p2bs"}, "mark": {"type": "line", "interpolate": "step-after", "strokeWidth": 2},
 "encoding": {"x": {"field": "t", "type": "quantitative"}, "y": {"field": "v", "type": "quantitative"},
  "color": {"field": "s", "type": "nominal"}}},
{"data": {"name": "arrows"}, "transform": [{"filter": "datum.p == 2"}], "mark": {"type": "rule", "color": "black", "strokeWidth": 2},
 "encoding": {"x": {"field": "t", "type": "quantitative"}, "y": {"datum": 44.75}, "y2": {"datum": 37}}},
{"data": {"name": "arrows"}, "transform": [{"filter": "datum.p == 2"}], "mark": {"type": "point", "shape": "M -0.75 -1.95 L 0.75 -1.95 L 0 0 Z", "size": 178, "filled": true, "color": "black", "opacity": 1, "strokeWidth": 0},
 "encoding": {"x": {"field": "t", "type": "quantitative"}, "y": {"datum": 35.66}}}
]
},
{
"width": 288, "height": 256,
"layer": [
{"data": {"name": "p3b"}, "transform": [{"fold": ["ISI 0","ISI 150","ISI 300"], "as": ["s","v"]}],
 "mark": {"type": "line", "strokeWidth": 2, "strokeJoin": "round"},
 "encoding": {
  "x": {"field": "t", "type": "quantitative", "scale": {"domain": [-0.2, 1.3], "nice": false, "zero": false},
        "axis": {"values": [-0.2,-0.1,0,0.1,0.2,0.3,0.4,0.5,0.6,0.7,0.8,0.9,1,1.1,1.2,1.3], "tickCount": 100, "labelExpr": "datum.value == 0 ? '0' : datum.value == 1 ? '1' : ''", "title": null}},
  "y": {"field": "v", "type": "quantitative", "scale": {"domain": [-19.48, 30], "range": [256, 0.3], "nice": false, "zero": false},
        "axis": {"values": [-10,-5,0,5,10,15,20,25,30], "tickCount": 100, "labelExpr": "datum.value == 0 ? '0' : datum.value == 30 ? '30' : ''", "title": null}},
  "color": {"field": "s", "type": "nominal", "scale": {"domain": ["ISI 0","ISI 150","ISI 300"], "range": ["#1f2391","#1e9e1e","#e5211d"]}, "legend": null}
 }},
{"data": {"name": "p3bs"}, "mark": {"type": "line", "interpolate": "step-after", "strokeWidth": 2},
 "encoding": {"x": {"field": "t", "type": "quantitative"}, "y": {"field": "v", "type": "quantitative"},
  "color": {"field": "s", "type": "nominal"}}},
{"data": {"name": "arrows"}, "transform": [{"filter": "datum.p == 3"}], "mark": {"type": "rule", "color": "black", "strokeWidth": 2},
 "encoding": {"x": {"field": "t", "type": "quantitative"}, "y": {"datum": 32.75}, "y2": {"datum": 27.2}}},
{"data": {"name": "arrows"}, "transform": [{"filter": "datum.p == 3"}], "mark": {"type": "point", "shape": "M -0.75 -1.95 L 0.75 -1.95 L 0 0 Z", "size": 178, "filled": true, "color": "black", "opacity": 1, "strokeWidth": 0},
 "encoding": {"x": {"field": "t", "type": "quantitative"}, "y": {"datum": 25.98}}}
]
}
],
"config": {
 "view": {"stroke": null},
 "font": "Liberation Sans",
 "axis": {"domain": true, "domainColor": "black", "domainWidth": 2, "domainCap": "square", "grid": false, "ticks": true, "tickColor": "black", "tickWidth": 1.5, "tickSize": 5,
          "labelOverlap": false, "labelColor": "black", "labelFont": "Liberation Sans", "labelFontWeight": "bold",
          "titleFont": "Liberation Sans", "titleFontWeight": "bold", "titleColor": "black"},
 "axisX": {"labelFontSize": 25, "labelPadding": 2},
 "axisY": {"labelFontSize": 18, "labelPadding": 4, "titleFontSize": 26, "minExtent": 40, "maxExtent": 40, "titlePadding": 19},
 "legend": {"labelFont": "Liberation Sans", "labelFontWeight": "bold", "labelColor": "black"},
 "title": {"font": "Liberation Sans", "fontSize": 23, "fontWeight": "bold", "color": "black", "offset": 18, "anchor": "middle", "frame": "group"}
}
}
